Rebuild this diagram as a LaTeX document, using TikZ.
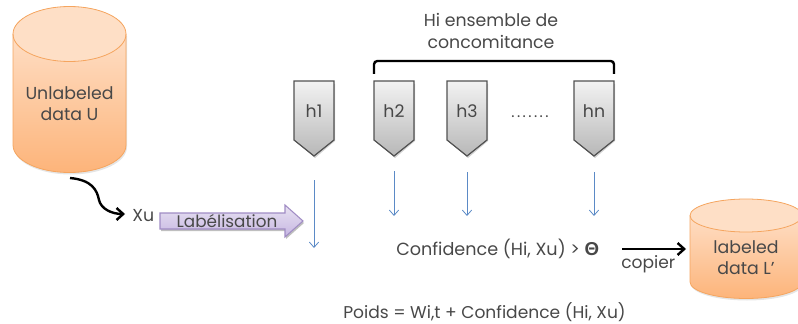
\documentclass[tikz,border=0pt]{standalone}
\usepackage{fontspec}
\setmainfont{Poppins}
\newfontfamily\thetafont{Liberation Sans}
\usetikzlibrary{arrows.meta,calc}
\definecolor{txt}{HTML}{484848}
\definecolor{cylTop}{HTML}{FEE6D3}
\definecolor{cylBot}{HTML}{FDB47A}
\definecolor{cylLine}{HTML}{F5A55F}
\definecolor{blueLine}{HTML}{5B8AC6}
\definecolor{lilaLine}{HTML}{A08CC4}
\definecolor{lilaTop}{HTML}{E8E2F2}
\definecolor{lilaBot}{HTML}{C6B6E2}
\tikzset{
  x=0.75pt,y=-0.75pt,
  lbl/.style={text=txt,inner sep=0pt,align=center,font=\fontsize{13}{14.8}\selectfont},
  hlbl/.style={text=txt,inner sep=0pt,font=\fontsize{13}{14}\selectfont},
  flow/.style={blueLine,line width=0.6pt,-{Straight Barb[length=4pt,width=7pt,line width=0.6pt]}},
  heavy/.style={black,line width=1.8pt,-{Straight Barb[length=5pt,width=9pt,line width=1.8pt]}},
  cylskin/.style={draw=cylLine,line width=0.6pt}
}
\newcommand{\cyl}[6]{% cx, rx, top-centre y, ry, bottom-centre y, ellipse tint
  \fill[black!10] (#1-#2+1,#3+2) -- (#1-#2+1,#5+2)
    arc[start angle=180,end angle=0,x radius=#2,y radius=#4] -- (#1+#2+1,#3+2) -- cycle;
  \path[top color=cylTop,bottom color=cylBot]
    (#1-#2,#3) -- (#1-#2,#5)
    arc[start angle=180,end angle=0,x radius=#2,y radius=#4]
    -- (#1+#2,#3)
    arc[start angle=0,end angle=-180,x radius=#2,y radius=#4] -- cycle;
  \path[fill=#6]
    (#1,#3) ellipse[x radius=#2,y radius=#4];
  \draw[cylskin] (#1,#3) ellipse[x radius=#2,y radius=#4];
  \draw[cylskin] (#1-#2,#3) -- (#1-#2,#5)
    arc[start angle=180,end angle=0,x radius=#2,y radius=#4] -- (#1+#2,#3);
}
\newcommand{\shieldbox}[3]{% name, cx, text
  \fill[black!18] (#2-19,84) -- (#2+21,84) -- (#2+21,141) -- (#2+1,158) -- (#2-19,141) -- cycle;
  \path[draw=black!68,line width=0.9pt,top color=black!5,bottom color=black!28]
    (#2-20,81) -- (#2+20,81) -- (#2+20,140) -- (#2,156) -- (#2-20,140) -- cycle;
  \node[hlbl] (#1) at (#2,111) {#3};
}
\begin{document}
\begin{tikzpicture}
\useasboundingbox (0,0) rectangle (798,324);
% cylinders
\cyl{69.5}{56.5}{34}{27.5}{145}{cylTop!85!cylBot}
\node[lbl] (U) at (69.5,103.5) {Unlabeled\\[0.5pt]data U};
\begin{scope}
\clip (0,0) rectangle (798,324);
\cyl{746}{56}{215.5}{16.5}{282}{cylTop!85!cylBot}
\end{scope}
\node[lbl] (L) at (746,257.5) {labeled\\[1pt]data L’};
% shields
\shieldbox{h1}{314}{h1}
\shieldbox{h2}{394}{h2}
\shieldbox{h3}{467}{h3}
\shieldbox{hn}{594}{hn}
\node[text=txt,inner sep=0pt,font=\fontsize{11.5}{14}\selectfont\addfontfeature{LetterSpace=16}] (dots) at (530,117) {.......};
% heading and bracket
\node[lbl] (title) at (491,31) {Hi ensemble de\\[1pt]concomitance};
\coordinate (bl) at (374,74); \coordinate (br) at (614,74);
\draw[black,line width=1.8pt,rounded corners=2.5pt] (bl) -- (374,61) -- (614,61) -- (br);
% blue arrows
\coordinate (a1s) at (314,180); \coordinate (a1e) at (314,248);
\coordinate (a2s) at (394,171); \coordinate (a2e) at (394,216);
\coordinate (a3s) at (467,172); \coordinate (a3e) at (467,216);
\coordinate (a4s) at (594,172); \coordinate (a4e) at (594,216);
\draw[flow] (a1s) -- (a1e);
\draw[flow] (a2s) -- (a2e);
\draw[flow] (a3s) -- (a3e);
\draw[flow] (a4s) -- (a4e);
% Xu and curve
\node[lbl,anchor=west] (xu) at (132,216) {Xu};
\coordinate (ubot) at (70,178);
\coordinate (xuin) at (125,214);
\draw[heavy] (ubot) .. controls (92,180) and (97,190) .. (99,200)
   .. controls (101,209) and (112,214) .. (xuin);
% Labelisation arrow
\fill[black!25] (161,215) -- (286,215) -- (286,207) -- (304,223) -- (286,239) -- (286,231) -- (161,231) -- cycle;
\path[draw=lilaLine,line width=0.8pt,top color=lilaTop,bottom color=lilaBot]
  (160,213) -- (285,213) -- (285,205) -- (303,221) -- (285,237) -- (285,229) -- (160,229) -- cycle;
\node[lbl,font=\fontsize{12.6}{14}\selectfont] (lab) at (227,221.5) {Labélisation};
% confidence line
\node[hlbl,anchor=west,font=\fontsize{13.2}{15}\selectfont] (conf) at (396,249) {Confidence (Hi, Xu) > {\thetafont\bfseries\fontsize{14}{15}\selectfont Θ}};
\coordinate (carr) at (622,249);
\coordinate (carrend) at (686,249);
\draw[heavy] (carr) -- (carrend);
\node[hlbl,anchor=west,font=\fontsize{12.8}{15}\selectfont] (copier) at (621,264) {copier};
\node[hlbl,anchor=west,font=\fontsize{12.8}{15}\selectfont] (poids) at (343,312) {Poids = Wi,t + Confidence (Hi, Xu)};
\end{tikzpicture}
\end{document}
